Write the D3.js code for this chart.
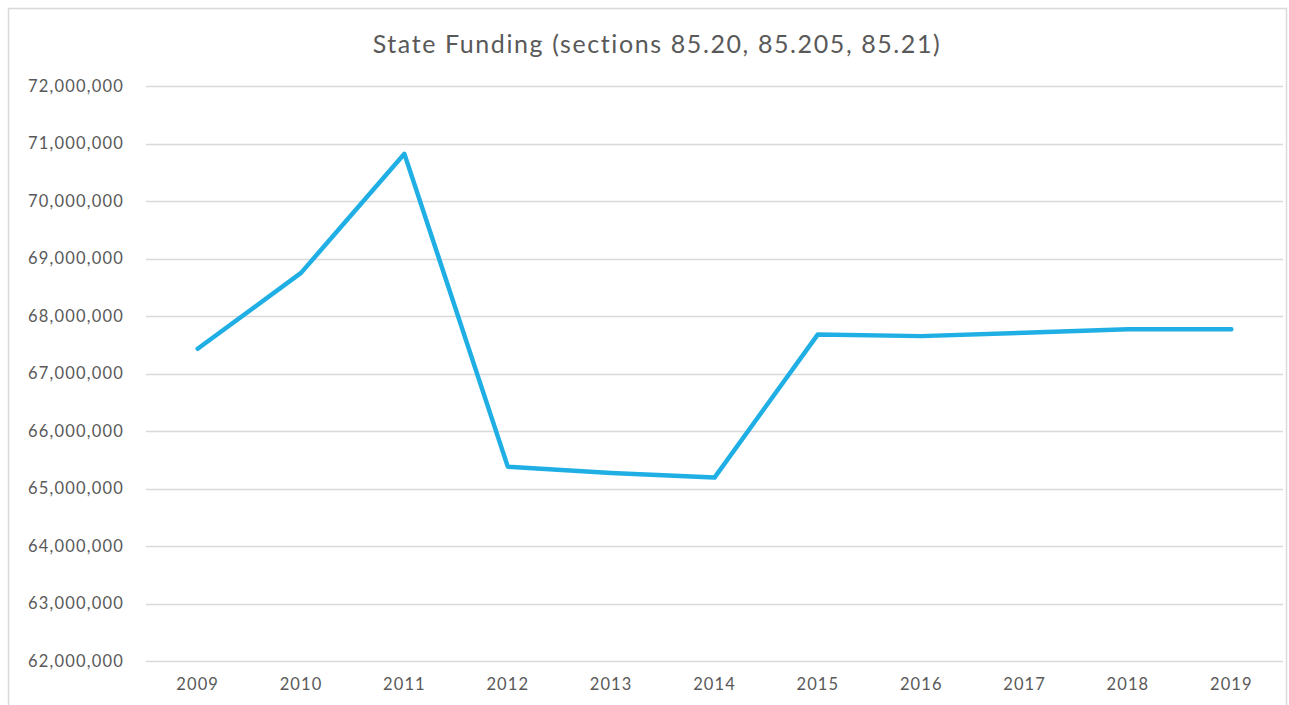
<!DOCTYPE html>
<html>
<head>
<meta charset="utf-8">
<script src="https://cdn.jsdelivr.net/npm/d3@7"></script>
<style>
  body { margin: 0; background: #fff; }
  text { font-family: "Lato", "Open Sans", sans-serif; fill: #595959; }
</style>
</head>
<body>
<svg width="1289" height="705"></svg>
<script>
var years = ["2009", "2010", "2011", "2012", "2013", "2014", "2015", "2016", "2017", "2018", "2019"];
var funding = [67430000, 68750000, 70820000, 65380000, 65270000, 65190000, 67680000, 67650000, 67710000, 67770000, 67770000];
var yTicks = [62000000, 63000000, 64000000, 65000000, 66000000, 67000000, 68000000, 69000000, 70000000, 71000000, 72000000];
var chartTitle = "State Funding (sections 85.20, 85.205, 85.21)";

var svg = d3.select("svg"),
    width = +svg.attr("width"),
    height = +svg.attr("height");

// chart frame
svg.append("rect")
    .attr("x", 8.5).attr("y", 8.5)
    .attr("width", 1278).attr("height", 710)
    .attr("fill", "#fff")
    .attr("stroke", "#d9d9d9")
    .attr("stroke-width", 1.5);

var margin = {left: 146, right: 6, top: 86, bottom: 44};

var x = d3.scaleBand()
    .domain(years)
    .range([margin.left, width - margin.right]);

var y = d3.scaleLinear()
    .domain([62000000, 72000000])
    .range([height - margin.bottom, margin.top]);

var fmt = d3.format(",");

// gridlines
svg.append("g")
    .selectAll("line")
    .data(yTicks)
    .enter()
    .append("line")
    .attr("x1", margin.left)
    .attr("x2", width - margin.right)
    .attr("y1", function(d) { return Math.round(y(d)) + 0.5; })
    .attr("y2", function(d) { return Math.round(y(d)) + 0.5; })
    .attr("stroke", "#d9d9d9")
    .attr("stroke-width", 1.5);

// y labels
svg.append("g")
    .selectAll("text")
    .data(yTicks)
    .enter()
    .append("text")
    .attr("x", 124)
    .attr("y", function(d) { return y(d); })
    .attr("dy", "0.35em")
    .attr("text-anchor", "end")
    .style("font-size", "16.5px")
    .style("letter-spacing", "1.2px")
    .text(function(d) { return fmt(d); });

// x labels
svg.append("g")
    .selectAll("text")
    .data(years)
    .enter()
    .append("text")
    .attr("x", function(d) { return x(d) + x.bandwidth() / 2; })
    .attr("y", height - margin.bottom + 23)
    .attr("dy", "0.35em")
    .attr("text-anchor", "middle")
    .style("font-size", "16.5px")
    .style("letter-spacing", "1.1px")
    .text(function(d) { return d; });

// the line
var line = d3.line()
    .x(function(d, i) { return x(years[i]) + x.bandwidth() / 2; })
    .y(function(d) { return y(d); });

svg.append("path")
    .datum(funding)
    .attr("d", line)
    .attr("fill", "none")
    .attr("stroke", "#1fafe4")
    .attr("stroke-width", 4.5)
    .attr("stroke-linejoin", "round")
    .attr("stroke-linecap", "round");

// title
svg.append("text")
    .attr("x", 657)
    .attr("y", 44)
    .attr("dy", "0.35em")
    .attr("text-anchor", "middle")
    .style("font-size", "25px")
    .style("letter-spacing", "1.6px")
    .text(chartTitle);
</script>
</body>
</html>
